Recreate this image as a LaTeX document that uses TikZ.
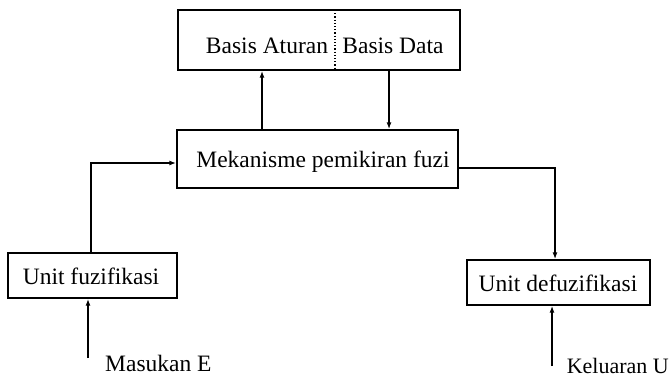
\documentclass[tikz,border=0pt]{standalone}
\usepackage{fontspec}
\setmainfont{Liberation Serif}
\usetikzlibrary{arrows.meta}
\begin{document}
\begin{tikzpicture}[x=1pt,y=-1pt,
  box/.style={draw,line width=1.4pt,inner sep=0pt},
  lbl/.style={font=\fontsize{23.5}{26}\selectfont,inner sep=0pt},
  conn/.style={line width=1.4pt},
  arr/.style={conn,-{Latex[length=7pt,width=5pt]}}]
\useasboundingbox (0,0) rectangle (670,380);
% top box
\node[box,minimum width=282pt,minimum height=60pt] (top) at (319,40) {};
\node[lbl] (ba) at (267,46) {Basis Aturan};
\node[lbl] (bd) at (393,46) {Basis Data};
\coordinate (dv1) at (335,10);
\coordinate (dv2) at (335,70);
\draw[dotted,line width=1.2pt] (dv1) -- (dv2);
% middle box
\node[box,minimum width=281pt,minimum height=58pt] (mid) at (317.5,159) {};
\node[lbl] (mt) at (323,162) {Mekanisme pemikiran fuzi};
% fuzification
\node[box,minimum width=169pt,minimum height=45pt] (fuz) at (92.5,275.5) {};
\node[lbl] (ft) at (91,276) {Unit fuzifikasi};
% defuzification
\node[box,minimum width=183pt,minimum height=45pt] (def) at (558.5,282.5) {};
\node[lbl] (dt) at (558,283) {Unit defuzifikasi};
% connectors top
\draw[arr] (mid.north -| 262,0) -- (top.south -| 262,0);
\draw[arr] (top.south -| 389,0) -- (mid.north -| 389,0);
% left connector
\coordinate (lc) at (91,163);
\draw[arr] (fuz.north -| lc) -- (lc) -- (mid.west |- lc);
% right connector
\coordinate (rc) at (555,168);
\draw[arr] (mid.east |- rc) -- (rc) -- (def.north -| rc);
% input
\coordinate (in) at (88,358);
\draw[arr] (in) -- (fuz.south -| in);
\node[lbl,anchor=west] (inl) at (105,363) {Masukan E};
% output
\coordinate (out) at (552,366);
\draw[arr] (out) -- (def.south -| out);
\node[lbl,anchor=east,font=\fontsize{22}{24}\selectfont] (outl) at (669,366) {Keluaran U};
\end{tikzpicture}
\end{document}
